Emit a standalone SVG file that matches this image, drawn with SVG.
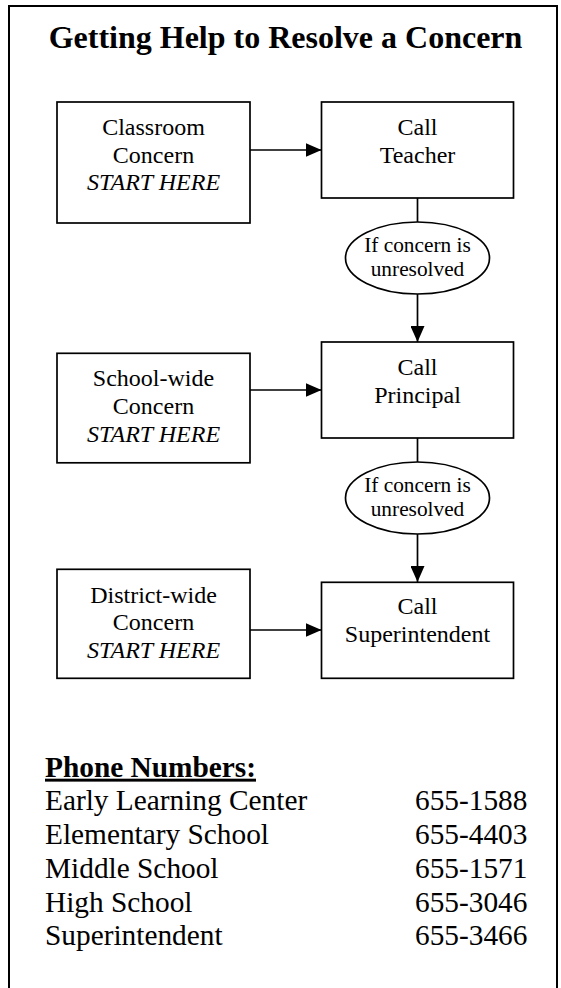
<svg xmlns="http://www.w3.org/2000/svg" width="561" height="988" viewBox="0 0 561 988">
<style>
  text { font-family: "Liberation Serif", "Times New Roman", serif; fill: #000; }
  .title { font-size: 32px; font-weight: bold; text-anchor: middle; }
  .box { fill: #fff; stroke: #000; stroke-width: 1.7; }
  .lbl { font-size: 24px; text-anchor: middle; }
  .it { font-style: italic; }
  .ell { font-size: 21.33px; text-anchor: middle; }
  .ph { font-size: 29.33px; }
  .phh { font-size: 29.33px; font-weight: bold; text-decoration: underline; }
  .conn { stroke: #000; stroke-width: 1.7; fill: none; }
</style>
<defs>
  <marker id="arr" markerWidth="16" markerHeight="14" refX="16" refY="7" orient="auto" markerUnits="userSpaceOnUse">
    <path d="M0,0 L16,7 L0,14 Z" fill="#000"/>
  </marker>
</defs>
<rect x="9" y="6" width="548" height="1000" fill="#fff" stroke="#000" stroke-width="2"/>
<text class="title" x="285.5" y="47.5">Getting Help to Resolve a Concern</text>

<g id="connectors">
  <line class="conn" x1="250" y1="150" x2="321.5" y2="150" marker-end="url(#arr)"/>
  <line class="conn" x1="250" y1="390" x2="321.5" y2="390" marker-end="url(#arr)"/>
  <line class="conn" x1="250" y1="630" x2="321.5" y2="630" marker-end="url(#arr)"/>
  <line class="conn" x1="417.5" y1="198" x2="417.5" y2="222"/>
  <line class="conn" x1="417.5" y1="294" x2="417.5" y2="342" marker-end="url(#arr)"/>
  <line class="conn" x1="417.5" y1="438" x2="417.5" y2="462"/>
  <line class="conn" x1="417.5" y1="534" x2="417.5" y2="582" marker-end="url(#arr)"/>
</g>

<g id="classroom">
  <rect class="box" x="57" y="102" width="193" height="121"/>
  <text class="lbl" x="153.5" y="135">Classroom</text>
  <text class="lbl" x="153.5" y="162.6">Concern</text>
  <text class="lbl it" x="153.5" y="190.2">START HERE</text>
</g>
<g id="teacher">
  <rect class="box" x="321.5" y="102" width="192" height="96"/>
  <text class="lbl" x="417.5" y="135">Call</text>
  <text class="lbl" x="417.5" y="162.6">Teacher</text>
</g>
<g id="unresolved1">
  <ellipse class="box" cx="417.5" cy="258" rx="72" ry="36"/>
  <text class="ell" x="417.5" y="251.7">If concern is</text>
  <text class="ell" x="417.5" y="276.3">unresolved</text>
</g>
<g id="schoolwide">
  <rect class="box" x="57" y="353.3" width="193" height="109.5"/>
  <text class="lbl" x="153.5" y="386.3">School-wide</text>
  <text class="lbl" x="153.5" y="413.9">Concern</text>
  <text class="lbl it" x="153.5" y="441.5">START HERE</text>
</g>
<g id="principal">
  <rect class="box" x="321.5" y="342" width="192" height="96"/>
  <text class="lbl" x="417.5" y="375.3">Call</text>
  <text class="lbl" x="417.5" y="402.9">Principal</text>
</g>
<g id="unresolved2">
  <ellipse class="box" cx="417.5" cy="498" rx="72" ry="36"/>
  <text class="ell" x="417.5" y="491.7">If concern is</text>
  <text class="ell" x="417.5" y="516.3">unresolved</text>
</g>
<g id="districtwide">
  <rect class="box" x="57" y="569.3" width="193" height="109"/>
  <text class="lbl" x="153.5" y="602.5">District-wide</text>
  <text class="lbl" x="153.5" y="630.1">Concern</text>
  <text class="lbl it" x="153.5" y="657.7">START HERE</text>
</g>
<g id="superintendent">
  <rect class="box" x="321.5" y="582.3" width="192" height="96"/>
  <text class="lbl" x="417.5" y="614.3">Call</text>
  <text class="lbl" x="417.5" y="641.9">Superintendent</text>
</g>

<g id="phones">
  <text class="phh" x="45" y="776.7">Phone Numbers:</text>
  <text class="ph" x="45" y="810.4">Early Learning Center</text>
  <text class="ph" x="415" y="810.4">655-1588</text>
  <text class="ph" x="45" y="844.1">Elementary School</text>
  <text class="ph" x="415" y="844.1">655-4403</text>
  <text class="ph" x="45" y="877.8">Middle School</text>
  <text class="ph" x="415" y="877.8">655-1571</text>
  <text class="ph" x="45" y="911.5">High School</text>
  <text class="ph" x="415" y="911.5">655-3046</text>
  <text class="ph" x="45" y="945.2">Superintendent</text>
  <text class="ph" x="415" y="945.2">655-3466</text>
</g>
</svg>
